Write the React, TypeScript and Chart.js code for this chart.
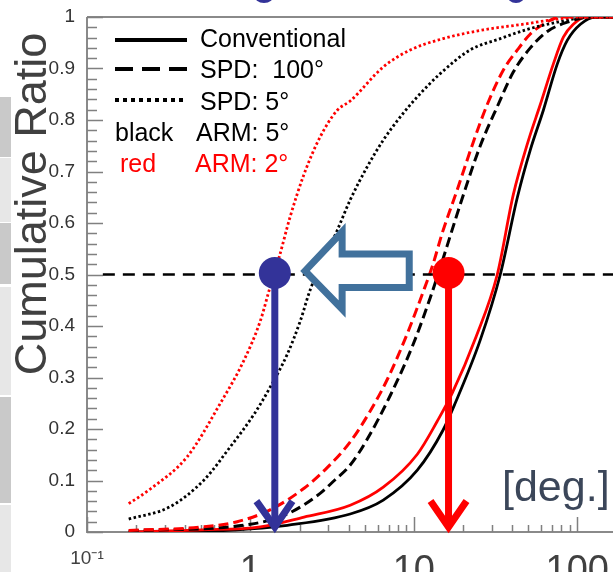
import React, { useEffect, useRef } from "react";
import { Chart, registerables } from "chart.js";

Chart.register(...registerables);

// ---------------- data ----------------
// Conventional, ARM 5° (black solid)
const convArm5X = [0.18, 0.6, 1.0, 1.68, 4.08, 6.5, 10.5, 15.1, 17.9, 25.5, 33.8, 43.0, 51.6, 62.0, 75.5, 87.0, 104.5, 129, 180];
const convArm5Y = [0.0, 0.002, 0.006, 0.013, 0.035, 0.062, 0.12, 0.198, 0.25, 0.373, 0.5, 0.65, 0.742, 0.819, 0.909, 0.955, 0.986, 1.0, 1.0];
// Conventional, ARM 2° (red solid)
const convArm2X = [0.18, 0.5, 1.15, 2.13, 4.08, 6.5, 10.5, 13.9, 17.2, 24.1, 32.4, 40.6, 50.2, 59.4, 71.4, 82.2, 94.6, 112, 180];
const convArm2Y = [0.0, 0.004, 0.01, 0.029, 0.052, 0.087, 0.151, 0.215, 0.27, 0.38, 0.5, 0.655, 0.76, 0.83, 0.909, 0.961, 0.986, 1.0, 1.0];
// SPD 100°, ARM 5° (black dashed)
const spd100Arm5X = [0.18, 1.0, 1.68, 2.67, 3.21, 4.08, 5.18, 7.17, 9.92, 12.6, 14.9, 16.7, 20.1, 25.5, 32.4, 40.6, 51.6, 65.6, 87.0, 120, 180];
const spd100Arm5Y = [0.002, 0.015, 0.035, 0.075, 0.098, 0.13, 0.18, 0.265, 0.365, 0.455, 0.525, 0.575, 0.655, 0.75, 0.826, 0.893, 0.94, 0.972, 0.99, 1.0, 1.0];
// SPD 100°, ARM 2° (red dashed)
const spd100Arm2X = [0.18, 0.52, 0.83, 1.32, 2.13, 2.95, 4.08, 5.41, 6.97, 9.11, 11.7, 13.1, 14.9, 18.4, 23.1, 28.2, 35.3, 43.0, 51.6, 62.0, 78.8, 180];
const spd100Arm2Y = [0.003, 0.01, 0.02, 0.043, 0.085, 0.125, 0.175, 0.235, 0.3, 0.385, 0.476, 0.52, 0.58, 0.664, 0.757, 0.831, 0.897, 0.936, 0.967, 0.986, 1.0, 1.0];
// SPD 5°, ARM 5° (black dotted)
const spd5Arm5X = [0.18, 0.322, 0.52, 0.751, 1.054, 1.32, 1.68, 2.02, 2.32, 3.4, 4.08, 5.18, 6.5, 8.26, 10.5, 14.5, 22.1, 33.8, 49.5, 75.5, 120, 180];
const spd5Arm5Y = [0.025, 0.049, 0.101, 0.165, 0.229, 0.281, 0.345, 0.41, 0.47, 0.586, 0.645, 0.709, 0.761, 0.806, 0.845, 0.89, 0.936, 0.958, 0.976, 0.99, 1.0, 1.0];
// SPD 5°, ARM 2° (red dotted)
const spd5Arm2X = [0.18, 0.243, 0.41, 0.652, 0.915, 1.15, 1.32, 1.5, 1.75, 2.13, 2.67, 3.4, 4.08, 6.5, 9.51, 15.1, 26.6, 46.8, 75.5, 104.5, 180];
const spd5Arm2Y = [0.055, 0.083, 0.146, 0.249, 0.334, 0.41, 0.476, 0.534, 0.612, 0.695, 0.767, 0.819, 0.837, 0.903, 0.936, 0.958, 0.975, 0.986, 0.996, 1.0, 1.0];

// median guide and markers
const medianLevel = 0.5;
const medianLineX = [0.125, 180];
const blueMarkerX = 1.41;
const redMarkerX = 16.3;
const markerY = 0.503;
const blueHeadX = [1.088, 1.41, 1.808];
const redHeadX = [12.65, 16.3, 21.0];
const headY = [0.06, 0.0097, 0.06];
// hollow "shift" arrow outline (data coords)
const shiftArrowX = [9.37, 9.37, 3.64, 3.64, 2.16, 3.64, 3.64, 9.37, 9.37];
const shiftArrowY = [0.5075, 0.54, 0.54, 0.583, 0.507, 0.433, 0.475, 0.475, 0.5075];

// axes
const xTickValues = [0.1, 0.2, 0.3, 0.4, 0.5, 0.6, 0.7, 0.8, 0.9, 1, 2, 3, 4, 5, 6, 7, 8, 9, 10, 20, 30, 40, 50, 60, 70, 80, 90, 100];
const xMajorValues = [0.1, 1, 10, 100];
const xMajorLabels = ["10\u207B\u00B9", "1", "10", "100"];
const yTickValues = [0, 0.1, 0.2, 0.3, 0.4, 0.5, 0.6, 0.7, 0.8, 0.9, 1];
const yTickLabels = ["0", "0.1", "0.2", "0.3", "0.4", "0.5", "0.6", "0.7", "0.8", "0.9", "1"];

const FONT = "'Liberation Sans', Arial, sans-serif";

const pts = (xs: number[], ys: number[]) => xs.map((x, i) => ({ x, y: ys[i] }));

const framePlugin = {
  id: "frame",
  beforeDraw(chart: any) {
    const ctx = chart.ctx;
    ctx.save();
    ctx.fillStyle = "#ffffff";
    ctx.fillRect(0, 0, chart.width, chart.height);
    // slide remnants on the left edge
    const strips: [number, number, string][] = [
      [97, 60, "#c9c9c9"], [158, 64, "#e7e7e7"], [223, 61, "#c9c9c9"],
      [287, 108, "#e7e7e7"], [397, 106, "#c9c9c9"], [505, 67, "#e7e7e7"],
    ];
    strips.forEach(([y0, h, c]) => { ctx.fillStyle = c; ctx.fillRect(0, y0, 11, h); });
    // cut-off title glyphs at the top
    ctx.fillStyle = "#333399";
    ctx.beginPath(); ctx.ellipse(264, -5, 10, 8, 0, 0, Math.PI * 2); ctx.fill();
    ctx.beginPath(); ctx.ellipse(516, -5, 9, 8, 0, 0, Math.PI * 2); ctx.fill();
    ctx.restore();
  },
  beforeDatasetsDraw(chart: any) {
    const { ctx, chartArea: a, scales } = chart;
    const xs = scales.x, ys = scales.y;
    ctx.save();
    ctx.strokeStyle = "#8a8a8a";
    ctx.lineWidth = 2;
    ctx.beginPath();
    ctx.moveTo(a.left, a.top); ctx.lineTo(a.right, a.top);
    ctx.moveTo(a.left, a.top); ctx.lineTo(a.left, a.bottom); ctx.lineTo(a.right, a.bottom);
    ctx.stroke();
    ctx.lineWidth = 1.5;
    ctx.strokeStyle = "#808080";
    ctx.beginPath();
    xTickValues.forEach((v) => {
      const px = Math.round(xs.getPixelForValue(v)) + 0.5;
      const len = xMajorValues.includes(v) ? 15 : 7;
      ctx.moveTo(px, a.bottom); ctx.lineTo(px, a.bottom - len);
    });
    for (let k = 0; k <= 50; k++) {
      const py = Math.round(ys.getPixelForValue(k / 50)) + 0.5;
      const len = k % 5 === 0 ? 16 : 10;
      ctx.moveTo(a.left, py); ctx.lineTo(a.left + len, py);
    }
    ctx.stroke();
    ctx.restore();
  },
  afterDatasetsDraw(chart: any) {
    const { ctx, scales } = chart;
    const xs = scales.x, ys = scales.y;
    ctx.save();
    ctx.beginPath();
    shiftArrowX.forEach((v, i) => {
      const px = xs.getPixelForValue(v), py = ys.getPixelForValue(shiftArrowY[i]);
      if (i === 0) ctx.moveTo(px, py); else ctx.lineTo(px, py);
    });
    ctx.closePath();
    ctx.fillStyle = "#ffffff";
    ctx.fill();
    ctx.lineJoin = "miter";
    ctx.lineWidth = 7;
    ctx.strokeStyle = "#41719c";
    ctx.stroke();
    ctx.restore();
  },
  afterDraw(chart: any) {
    const ctx = chart.ctx;
    ctx.save();
    // y title
    ctx.save();
    ctx.translate(46, 204);
    ctx.rotate(-Math.PI / 2);
    ctx.font = `45px ${FONT}`;
    ctx.fillStyle = "#404040";
    ctx.textAlign = "center";
    ctx.textBaseline = "alphabetic";
    ctx.fillText("Cumulative Ratio", 0, 0);
    ctx.restore();
    // unit
    ctx.font = `43px ${FONT}`;
    ctx.fillStyle = "#3b4659";
    ctx.textAlign = "left";
    ctx.textBaseline = "alphabetic";
    ctx.fillText("[deg.]", 502, 501);
    // legend samples
    ctx.strokeStyle = "#000";
    ctx.lineWidth = 4;
    const sample = (y: number, dash: number[]) => {
      ctx.setLineDash(dash);
      ctx.beginPath(); ctx.moveTo(115, y); ctx.lineTo(187, y); ctx.stroke();
    };
    sample(40, []);
    sample(69, [18, 9]);
    sample(100, [4, 4]);
    ctx.setLineDash([]);
    ctx.font = `25px ${FONT}`;
    ctx.fillStyle = "#000";
    ctx.fillText("Conventional", 200, 47);
    ctx.fillText("SPD:  100\u00B0", 200, 78);
    ctx.fillText("SPD: 5\u00B0", 200, 110);
    ctx.fillText("black", 115, 141);
    ctx.fillText("ARM: 5\u00B0", 196, 141);
    ctx.fillStyle = "#ff0000";
    ctx.fillText("red", 120, 172);
    ctx.fillText("ARM: 2\u00B0", 195, 172);
    ctx.restore();
  },
};

export default function App() {
  const ref = useRef<HTMLCanvasElement | null>(null);
  useEffect(() => {
    const canvas = ref.current;
    if (!canvas) return;
    const curve = (xs: number[], ys: number[], color: string, dash: number[], width: number) => ({
      data: pts(xs, ys),
      borderColor: color,
      borderWidth: width,
      borderDash: dash,
      pointRadius: 0,
      fill: false,
      cubicInterpolationMode: "monotone",
      order: 5,
    });
    const chart = new Chart(canvas, {
      type: "line",
      data: {
        datasets: [
          { data: [{ x: blueMarkerX, y: markerY }], showLine: false, pointRadius: 16, pointBackgroundColor: "#333399", pointBorderWidth: 0, order: 0, clip: false } as any,
          { data: [{ x: redMarkerX, y: markerY }], showLine: false, pointRadius: 16, pointBackgroundColor: "#ff0000", pointBorderWidth: 0, order: 0, clip: false } as any,
          { data: [{ x: blueMarkerX, y: markerY }, { x: blueMarkerX, y: headY[1] }], borderColor: "#333399", borderWidth: 7, pointRadius: 0, order: 1, clip: false, borderCapStyle: "butt" } as any,
          { data: pts(blueHeadX, headY), borderColor: "#333399", borderWidth: 7, pointRadius: 0, order: 1, clip: false, borderJoinStyle: "miter", tension: 0 } as any,
          { data: [{ x: redMarkerX, y: markerY }, { x: redMarkerX, y: headY[1] }], borderColor: "#ff0000", borderWidth: 7, pointRadius: 0, order: 1, clip: false, borderCapStyle: "butt" } as any,
          { data: pts(redHeadX, headY), borderColor: "#ff0000", borderWidth: 7, pointRadius: 0, order: 1, clip: false, borderJoinStyle: "miter", tension: 0 } as any,
          { data: medianLineX.map((x) => ({ x, y: medianLevel })), borderColor: "#000", borderWidth: 2.5, borderDash: [12, 8], pointRadius: 0, order: 3, clip: false } as any,
          curve(spd5Arm2X, spd5Arm2Y, "#ff0000", [2.5, 2.5], 2.8) as any,
          curve(spd5Arm5X, spd5Arm5Y, "#000000", [2.5, 2.5], 2.8) as any,
          curve(spd100Arm2X, spd100Arm2Y, "#ff0000", [10, 5], 3) as any,
          curve(spd100Arm5X, spd100Arm5Y, "#000000", [10, 5], 3) as any,
          curve(convArm2X, convArm2Y, "#ff0000", [], 2.8) as any,
          curve(convArm5X, convArm5Y, "#000000", [], 2.8) as any,
        ],
      },
      options: {
        animation: false,
        responsive: false,
        events: [],
        layout: { padding: { left: 0, top: 17, right: 31, bottom: 0 } },
        plugins: { legend: { display: false }, tooltip: { enabled: false } },
        scales: {
          x: {
            type: "logarithmic",
            min: 0.1,
            max: 180,
            grid: { display: false },
            border: { display: false },
            afterBuildTicks: (s: any) => { s.ticks = xTickValues.map((v) => ({ value: v })); },
            afterFit: (s: any) => { s.height = 40; },
            ticks: {
              autoSkip: false,
              maxRotation: 0,
              minRotation: 0,
              padding: 9,
              color: "#404040",
              callback: (v: any) => {
                const i = xMajorValues.indexOf(Number(v));
                return i >= 0 ? xMajorLabels[i] : "";
              },
              font: (c: any) => (c.tick && c.tick.value === 0.1
                ? { family: FONT, size: 19, lineHeight: 1.0 }
                : { family: FONT, size: 38, lineHeight: 1.2 }),
            },
          } as any,
          y: {
            type: "linear",
            min: 0,
            max: 1,
            grid: { display: false },
            border: { display: false },
            afterBuildTicks: (s: any) => { s.ticks = yTickValues.map((v) => ({ value: v })); },
            afterFit: (s: any) => { s.width = 87; },
            ticks: {
              autoSkip: false,
              padding: 4,
              color: "#333333",
              font: { family: FONT, size: 19 },
              callback: (_v: any, i: number) => yTickLabels[i],
            },
          } as any,
        },
      } as any,
      plugins: [framePlugin],
    });
    return () => chart.destroy();
  }, []);
  return (
    <div style={{ position: "fixed", left: 0, top: 0, width: 613, height: 572, overflow: "hidden", background: "#fff" }}>
      <canvas ref={ref} width={650} height={572} style={{ display: "block" }} />
    </div>
  );
}
